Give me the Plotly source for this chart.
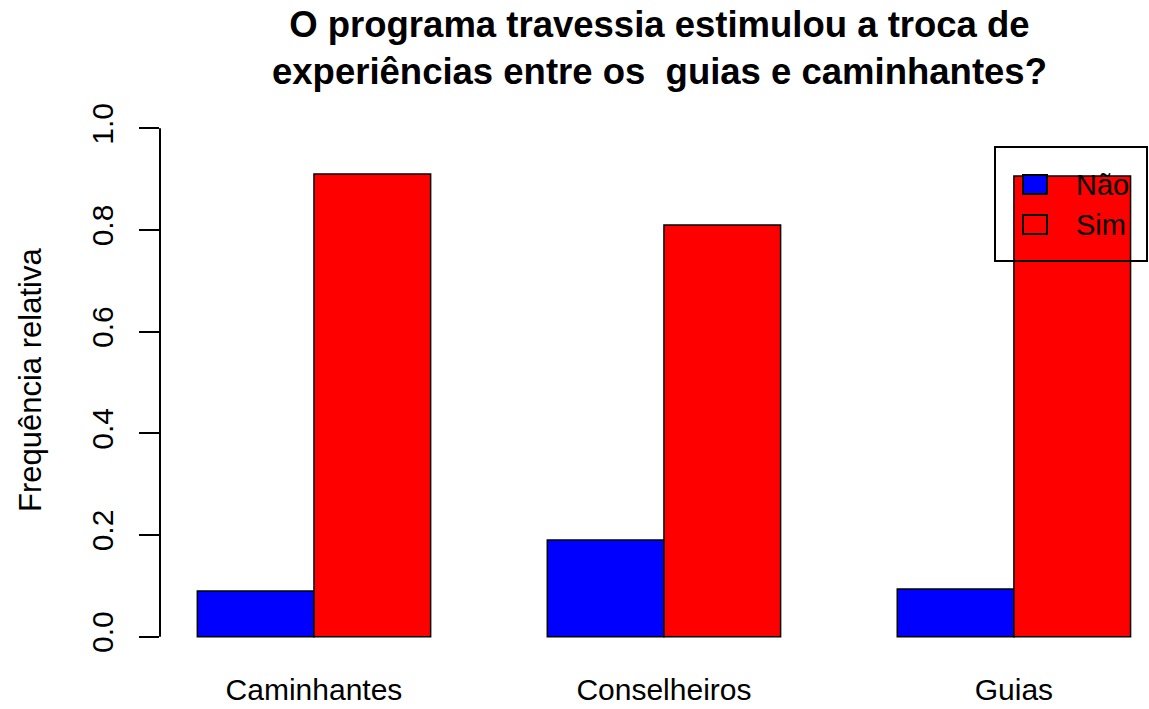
import plotly.graph_objects as go

# data
grupos = ["Caminhantes", "Conselheiros", "Guias"]
nao = [0.09, 0.19, 0.094]
sim = [0.91, 0.81, 0.906]
respostas = ["Não", "Sim"]
y_ticks = [0.0, 0.2, 0.4, 0.6, 0.8, 1.0]
y_tick_labels = ["0.0", "0.2", "0.4", "0.6", "0.8", "1.0"]

FONT = "Arial, Liberation Sans, sans-serif"
W, H = 1149, 709
L, R, T, B = 160, 0, 108, 52


def px(x, y):
    # pixel position -> paper coordinates of the plot area
    return (x - L) / (W - L - R), (H - B - y) / (H - T - B)


fig = go.Figure()
fig.add_trace(go.Bar(x=grupos, y=nao, name=respostas[0], marker=dict(color="#0000ff", line=dict(color="black", width=1.5))))
fig.add_trace(go.Bar(x=grupos, y=sim, name=respostas[1], marker=dict(color="#ff0000", line=dict(color="black", width=1.5))))

# y axis line only from 0 to 1, like base R
fig.add_shape(type="line", xref="paper", yref="y", x0=0, x1=0, y0=0, y1=1, line=dict(color="black", width=2))

# legend box drawn by hand (transparent, overlapping the last bar)
x0, y0 = px(995, 261)
x1, y1 = px(1147, 147)
fig.add_shape(type="rect", xref="paper", yref="paper", x0=x0, y0=y0, x1=x1, y1=y1, line=dict(color="black", width=2), layer="above")
for i, (nome, cor) in enumerate(zip(respostas, ["#0000ff", "rgba(0,0,0,0)"])):
    top = 175 + i * 40
    a0, b0 = px(1023, top + 19)
    a1, b1 = px(1047, top)
    fig.add_shape(type="rect", xref="paper", yref="paper", x0=a0, y0=b0, x1=a1, y1=b1,
                  fillcolor=cor, line=dict(color="black", width=2), layer="above")
    tx, ty = px(1074, top + 10)
    fig.add_annotation(xref="paper", yref="paper", x=tx, y=ty, text=nome, showarrow=False,
                       xanchor="left", yanchor="middle", font=dict(family=FONT, size=29, color="black"))

ax, ay = px(30, 380)
fig.add_annotation(xref="paper", yref="paper", x=ax, y=ay, text="Frequência relativa", textangle=-90,
                   showarrow=False, xanchor="center", yanchor="middle", font=dict(family=FONT, size=31, color="black"))

tx, ty = px(659, 2)
fig.add_annotation(xref="paper", yref="paper", x=tx, y=ty, showarrow=False, xanchor="center", yanchor="top",
                   text="<b>O programa travessia estimulou a troca de<br>experiências entre os  guias e caminhantes?</b>",
                   font=dict(family=FONT, size=36.5, color="black"))

fig.update_layout(
    width=W, height=H,
    margin=dict(l=L, r=R, t=T, b=B),
    paper_bgcolor="white", plot_bgcolor="white",
    barmode="group", bargap=1 / 3, bargroupgap=0,
    showlegend=False,
    xaxis=dict(range=[-0.44, 2.386], showline=False, showgrid=False, zeroline=False, automargin=False,
               ticks="outside", ticklen=6, tickcolor="rgba(0,0,0,0)",
               tickfont=dict(family=FONT, size=30, color="black")),
    yaxis=dict(range=[-0.04, 1.04], showline=False, showgrid=False, zeroline=False, automargin=False,
               tickvals=y_ticks, ticktext=y_tick_labels, ticks="outside", ticklen=20, tickwidth=2,
               tickcolor="black", tickangle=-90, ticklabelstandoff=14,
               tickfont=dict(family=FONT, size=30, color="black")),
)

fig.write_html("out.html", config={"displayModeBar": False},
               post_script="document.body.style.margin='0';document.body.style.overflow='hidden';")
